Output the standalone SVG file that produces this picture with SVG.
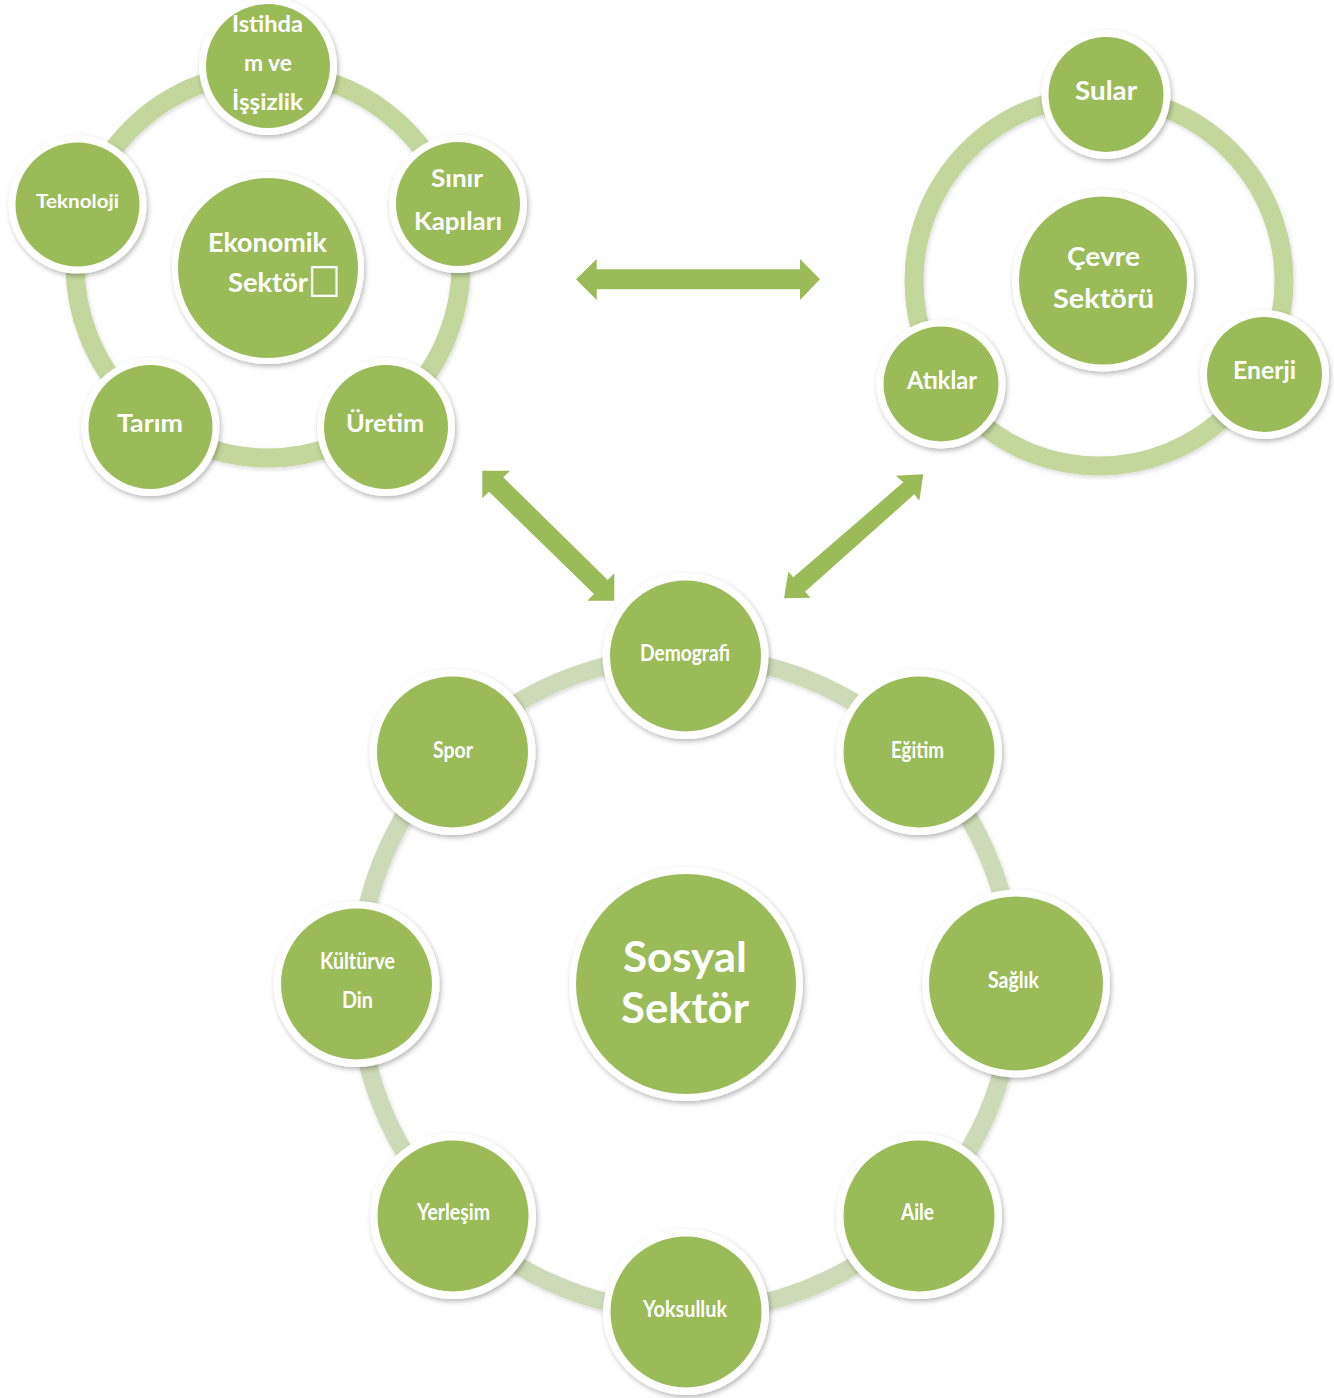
<svg xmlns="http://www.w3.org/2000/svg" width="1334" height="1398" viewBox="0 0 1334 1398">
<defs>
<filter id="sh" x="-20%" y="-20%" width="140%" height="140%">
<feDropShadow dx="1.5" dy="2.5" stdDeviation="2.5" flood-color="#000" flood-opacity="0.28"/>
</filter>
<filter id="rsh" x="-10%" y="-10%" width="120%" height="120%">
<feDropShadow dx="1" dy="2" stdDeviation="2" flood-color="#000" flood-opacity="0.15"/>
</filter>
</defs>
<style>
.w{fill:#ffffff;filter:url(#sh)}
.g{fill:#9bbb59}
.ring1{fill:none;stroke:#c3d69b;stroke-width:19;filter:url(#rsh)}
.ring2{fill:none;stroke:#cddab8;stroke-width:18;filter:url(#rsh)}
.t{fill:#ffffff;font-family:Lato,"Open Sans","Liberation Sans",sans-serif;font-weight:bold;text-anchor:middle}
.arr{fill:#9bbb59}
</style>
<rect width="1334" height="1398" fill="#ffffff"/>

<!-- rings -->
<g id="rings">
<circle class="ring1" cx="268" cy="265" r="193"/>
<circle class="ring1" cx="1099" cy="281" r="185"/>
<circle class="ring2" cx="686" cy="984" r="328"/>
</g>

<!-- connectors -->
<g id="connectors">
<polygon class="arr" points="576,279.3 596.7,259 596.7,269.3 800,269.3 800,259 820,279.3 800,300 800,289.3 596.7,289.3 596.7,300"/>
<polygon class="arr" points="482.3,470.7 510,470.7 503.3,477.3 607.7,580 614.3,573.3 614.3,600.7 587.3,600.7 594,594 489,491.7 482.3,498.3"/>
<polygon class="arr" points="923.3,474.3 919.3,500.7 914.3,494.3 805,591.7 810.7,597.7 784,598.3 788.3,571.7 793.3,577.3 903.3,482.3 896,475.7"/>
</g>

<!-- Economic sector -->
<g id="n-ekonomik">
<circle class="w" cx="268" cy="268" r="96"/>
<circle class="g" cx="268" cy="268" r="90"/>
<text class="t" x="267.5" y="252" font-size="26" textLength="119" lengthAdjust="spacingAndGlyphs">Ekonomik</text>
<text class="t" x="268" y="292" font-size="26" textLength="80" lengthAdjust="spacingAndGlyphs">Sektör</text>
<text x="0" y="0" transform="translate(308,292) scale(0.86,1)" font-family="'DejaVu Sans',sans-serif" font-size="40" fill="#ffffff">□</text>
</g>
<g id="n-istihdam">
<circle class="w" cx="268" cy="66" r="69"/>
<circle class="g" cx="268" cy="66" r="62"/>
<text class="t" x="267.5" y="32" font-size="23" textLength="71" lengthAdjust="spacingAndGlyphs">Istihda</text>
<text class="t" x="268" y="71" font-size="23" textLength="48" lengthAdjust="spacingAndGlyphs">m ve</text>
<text class="t" x="267.5" y="110" font-size="23" textLength="71" lengthAdjust="spacingAndGlyphs">İşşizlik</text>
</g>
<g id="n-sinir">
<circle class="w" cx="458" cy="204" r="69"/>
<circle class="g" cx="458" cy="204" r="62"/>
<text class="t" x="457" y="187" font-size="24" textLength="52" lengthAdjust="spacingAndGlyphs">Sınır</text>
<text class="t" x="458" y="230" font-size="24" textLength="88" lengthAdjust="spacingAndGlyphs">Kapıları</text>
</g>
<g id="n-uretim">
<circle class="w" cx="386" cy="427" r="69"/>
<circle class="g" cx="386" cy="427" r="62"/>
<text class="t" x="385" y="432" font-size="24" textLength="78" lengthAdjust="spacingAndGlyphs">Üretim</text>
</g>
<g id="n-tarim">
<circle class="w" cx="150.5" cy="427" r="69"/>
<circle class="g" cx="150.5" cy="427" r="62"/>
<text class="t" x="150" y="432" font-size="24" textLength="66" lengthAdjust="spacingAndGlyphs">Tarım</text>
</g>
<g id="n-teknoloji">
<circle class="w" cx="77.5" cy="204.5" r="69"/>
<circle class="g" cx="77.5" cy="204.5" r="62"/>
<text class="t" x="77.5" y="208" font-size="19" textLength="83" lengthAdjust="spacingAndGlyphs">Teknoloji</text>
</g>

<!-- Environment sector -->
<g id="n-cevre">
<circle class="w" cx="1103" cy="280.5" r="91"/>
<circle class="g" cx="1103" cy="280.5" r="84"/>
<text class="t" x="1103.5" y="266" font-size="27" textLength="73" lengthAdjust="spacingAndGlyphs">Çevre</text>
<text class="t" x="1103.5" y="308" font-size="27" textLength="101" lengthAdjust="spacingAndGlyphs">Sektörü</text>
</g>
<g id="n-sular">
<circle class="w" cx="1106" cy="94.5" r="64.5"/>
<circle class="g" cx="1106" cy="94.5" r="57.5"/>
<text class="t" x="1106" y="100" font-size="26" textLength="62" lengthAdjust="spacingAndGlyphs">Sular</text>
</g>
<g id="n-enerji">
<circle class="w" cx="1264.5" cy="374.5" r="64.5"/>
<circle class="g" cx="1264.5" cy="374.5" r="57.5"/>
<text class="t" x="1264.5" y="379" font-size="24" textLength="63" lengthAdjust="spacingAndGlyphs">Enerji</text>
</g>
<g id="n-atiklar">
<circle class="w" cx="941" cy="384" r="64.5"/>
<circle class="g" cx="941" cy="384" r="57.5"/>
<text class="t" x="942" y="389" font-size="24" textLength="70" lengthAdjust="spacingAndGlyphs">Atıklar</text>
</g>

<!-- Social sector -->
<g id="n-sosyal">
<circle class="w" cx="686" cy="984" r="117"/>
<circle class="g" cx="686" cy="984" r="110"/>
<text class="t" x="685" y="972" font-size="42" textLength="124" lengthAdjust="spacingAndGlyphs">Sosyal</text>
<text class="t" x="685" y="1023" font-size="42" textLength="128" lengthAdjust="spacingAndGlyphs">Sektör</text>
</g>
<g id="n-demografi">
<circle class="w" cx="685.5" cy="656" r="83"/>
<circle class="g" cx="685.5" cy="656" r="75.5"/>
<text class="t" x="685" y="661" font-size="22" textLength="90" lengthAdjust="spacingAndGlyphs">Demografi</text>
</g>
<g id="n-egitim">
<circle class="w" cx="919" cy="752" r="83"/>
<circle class="g" cx="919" cy="752" r="75.5"/>
<text class="t" x="917.5" y="758" font-size="22" textLength="53" lengthAdjust="spacingAndGlyphs">Eğitim</text>
</g>
<g id="n-saglik">
<circle class="w" cx="1016" cy="983.5" r="94"/>
<circle class="g" cx="1016" cy="983.5" r="87"/>
<text class="t" x="1013.5" y="988" font-size="22" textLength="51" lengthAdjust="spacingAndGlyphs">Sağlık</text>
</g>
<g id="n-aile">
<circle class="w" cx="919" cy="1216" r="83"/>
<circle class="g" cx="919" cy="1216" r="75.5"/>
<text class="t" x="917.5" y="1220" font-size="22" textLength="33" lengthAdjust="spacingAndGlyphs">Aile</text>
</g>
<g id="n-yoksulluk">
<circle class="w" cx="686" cy="1312" r="83"/>
<circle class="g" cx="686" cy="1312" r="75.5"/>
<text class="t" x="685" y="1317" font-size="22" textLength="84" lengthAdjust="spacingAndGlyphs">Yoksulluk</text>
</g>
<g id="n-yerlesim">
<circle class="w" cx="453" cy="1216" r="83"/>
<circle class="g" cx="453" cy="1216" r="75.5"/>
<text class="t" x="453.5" y="1220" font-size="22" textLength="73" lengthAdjust="spacingAndGlyphs">Yerleşim</text>
</g>
<g id="n-kultur">
<circle class="w" cx="356.5" cy="984" r="83"/>
<circle class="g" cx="356.5" cy="984" r="75.5"/>
<text class="t" x="357.5" y="969" font-size="22" textLength="75" lengthAdjust="spacingAndGlyphs">Kültürve</text>
<text class="t" x="357.5" y="1008" font-size="22" textLength="31" lengthAdjust="spacingAndGlyphs">Din</text>
</g>
<g id="n-spor">
<circle class="w" cx="452.5" cy="752" r="83"/>
<circle class="g" cx="452.5" cy="752" r="75.5"/>
<text class="t" x="453" y="758" font-size="22" textLength="40" lengthAdjust="spacingAndGlyphs">Spor</text>
</g>
</svg>
